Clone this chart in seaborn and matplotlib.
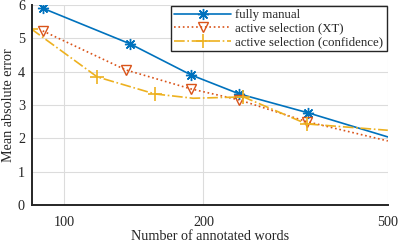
import numpy as np
import pandas as pd
import matplotlib
matplotlib.use("Agg")
import matplotlib.pyplot as plt
import seaborn as sns

# datos
manual_x = [90, 139, 188, 239, 337, 500]
manual_y = [5.9, 4.83, 3.9, 3.33, 2.76, 2.04]

xt_x = [90, 136, 188, 239, 334, 500]
xt_y = [5.22, 4.05, 3.48, 3.15, 2.5, 1.92]

conf_x = [85, 118, 157, 190, 244, 334, 500]
conf_y = [5.28, 3.84, 3.33, 3.2, 3.24, 2.43, 2.24]

xticks = [100, 200, 500]
yticks = [0, 1, 2, 3, 4, 5, 6]

sns.set_style("whitegrid")
plt.rcParams['font.family'] = ['Liberation Serif', 'DejaVu Serif']

fig = plt.figure(figsize=(3.99, 2.44), dpi=100)
ax = fig.add_axes([0.080, 0.160, 0.892, 0.820])

blue = '#0072BD'
orange = '#D95319'
yellow = '#EDB120'

sns.lineplot(x=manual_x, y=manual_y, ax=ax, color=blue, lw=1.2,
             marker=(8, 2, 0), markersize=8, markeredgewidth=1.0,
             markeredgecolor=blue, markevery=[0, 1, 2, 3, 4], label='fully manual')
sns.lineplot(x=xt_x, y=xt_y, ax=ax, color=orange, lw=1.2, linestyle=':',
             marker='v', markersize=6.5, markerfacecolor='none', markeredgewidth=1.0,
             markeredgecolor=orange, markevery=[0, 1, 2, 3, 4],
             label='active selection (XT)')
sns.lineplot(x=conf_x, y=conf_y, ax=ax, color=yellow, lw=1.2, linestyle='-.',
             marker='+', markersize=10, markeredgewidth=1.2,
             markeredgecolor=yellow, markevery=[0, 1, 2, 4, 5],
             label='active selection (confidence)')

ax.set_xscale('log')
ax.set_xlim(85.3, 500)
ax.set_ylim(0, 6)
ax.set_xticks(xticks)
ax.set_xticklabels([str(t) for t in xticks])
ax.minorticks_off()
ax.set_yticks(yticks)

ax.grid(True, color='#dcdcdc', lw=0.8)
for s in ['top', 'right']:
    ax.spines[s].set_visible(False)
for s in ['left', 'bottom']:
    ax.spines[s].set_color('#262626')
    ax.spines[s].set_linewidth(1.4)

ax.tick_params(axis='both', direction='in', length=3, width=0.8, color='#262626',
               labelsize=10.2, labelcolor='#262626')
ax.tick_params(axis='x', pad=8)
ax.tick_params(axis='y', pad=5)
ax.set_xlabel('Number of annotated words', fontsize=10.2, color='#262626', labelpad=0.5)
ax.set_ylabel('Mean absolute error', fontsize=10.2, color='#262626', labelpad=2)

leg = ax.legend(loc='upper right', fontsize=9.3, frameon=True, fancybox=False,
                borderaxespad=0.1, handlelength=4.4, handletextpad=0.3,
                labelspacing=0.1, borderpad=0.25)
leg.get_frame().set_edgecolor('#262626')
leg.get_frame().set_linewidth(1.0)
leg.get_frame().set_alpha(1)

fig.savefig('out.png', dpi=100)
